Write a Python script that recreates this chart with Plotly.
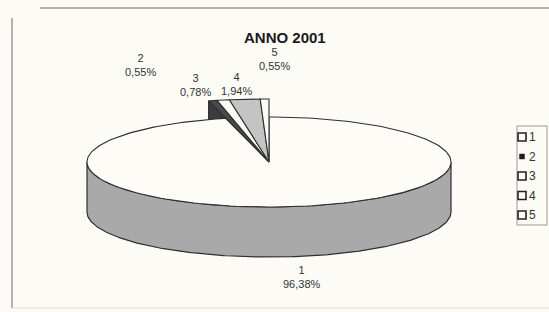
import math
import plotly.graph_objects as go

# ---- data ----
labels = ["1", "2", "3", "4", "5"]
values = [96.38, 0.55, 0.78, 1.94, 0.55]
title_text = "ANNO 2001"

# ---- style ----
top_colors = ["#fdfcf7", "#4a4a4a", "#fbfaf6", "#c4c4c4", "#fbfaf6"]
legend_fill = ["#fdfcf7", "#1e1e1e", "#fdfcf7", "#fdfcf7", "#fdfcf7"]
band_color = "#a9a9a9"
line_col = "#2e2e2e"
font_fam = "Liberation Sans, Arial"
cx, cy = 269, 162          # pie centre in pixel axes
ra, rb = 182, 45           # ellipse semi-axes
depth = 50                 # pie thickness
pop = [1.0, 1.4, 1.4, 1.4, 1.4]   # radius factor of each slice
# label nudges (px) relative to slice anchor
lab_dx = [11, -72, -28, -8, 10]
lab_dy = [-20, 36, 15, 15, 40]

def fmt(v):
    return f"{v:.2f}".replace(".", ",") + "%"

total = sum(values)
spans = [v / total * 360 for v in values]
starts = []
acc = 0.0
for s in spans:
    starts.append(acc)
    acc += s

def pt(theta, k=1.0, dz=0.0):
    t = math.radians(theta)
    return cx + ra * k * math.sin(t), cy - rb * k * math.cos(t) + dz

def arc(a0, a1, k=1.0, dz=0.0, n=200):
    xs, ys = [], []
    for i in range(n + 1):
        x, y = pt(a0 + (a1 - a0) * i / n, k, dz)
        xs.append(x); ys.append(y)
    return xs, ys

fig = go.Figure()

# cut wall of slice 2 (the first small slice), seen above big slice
i2 = 1
a = starts[i2]
ox, oy = pt(a, pop[i2])
fig.add_trace(go.Scatter(
    x=[cx, ox, ox, cx, cx], y=[cy, oy, oy + depth, cy + depth, cy],
    fill="toself", fillcolor="#3c3c3c", mode="lines",
    line=dict(color=line_col, width=1), showlegend=False, hoverinfo="skip"))

# front side band of slice 1
lo = max(starts[0], 90); hi = min(starts[0] + spans[0], 270)
tx, ty = arc(lo, hi)
bx, by = arc(hi, lo, dz=depth)
fig.add_trace(go.Scatter(
    x=tx + bx + [tx[0]], y=ty + by + [ty[0]],
    fill="toself", fillcolor=band_color, mode="lines",
    line=dict(color=line_col, width=1.2), showlegend=False, hoverinfo="skip"))

# top faces
for i, (lab, s, sp) in enumerate(zip(labels, starts, spans)):
    ax_, ay_ = arc(s, s + sp, k=pop[i])
    fig.add_trace(go.Scatter(
        x=[cx] + ax_ + [cx], y=[cy] + ay_ + [cy],
        fill="toself", fillcolor=top_colors[i], mode="lines",
        line=dict(color=line_col, width=1.1), name=lab,
        showlegend=False, hoverinfo="skip"))

# data labels
for i, (lab, v, s, sp) in enumerate(zip(labels, values, starts, spans)):
    mid = s + sp / 2
    x, y = pt(mid, pop[i])
    if i == 0:
        y += depth
    fig.add_annotation(x=x, y=y, text=f"{lab}<br>{fmt(v)}", showarrow=False,
                       xshift=lab_dx[i], yshift=lab_dy[i],
                       font=dict(family=font_fam, size=11, color="#333333"))

fig.add_annotation(x=285, y=37, text=f"<b>{title_text}</b>", showarrow=False,
                   font=dict(family=font_fam, size=15, color="#1a1a1a"))

# hand-drawn legend box (style positions)
leg_y0, leg_step = 137, 19.5
fig.add_shape(type="rect", x0=517, x1=547, y0=126, y1=225,
              line=dict(color="#9a9a9a", width=1))
for i, lab in enumerate(labels):
    yy = leg_y0 + i * leg_step
    half = 2.5 if i == 1 else 4
    fig.add_shape(type="rect", x0=522 - half, x1=522 + half, y0=yy - half, y1=yy + half,
                  fillcolor=legend_fill[i], line=dict(color="#222222", width=1.6 if i != 1 else 0.5))
    fig.add_annotation(x=527, y=yy, text=lab, showarrow=False, xanchor="left",
                       font=dict(family=font_fam, size=12, color="#333333"))

# frame decoration
fig.add_shape(type="line", x0=12, x1=12, y0=18, y1=308, line=dict(color="#9a9a9a", width=1.5))
fig.add_shape(type="line", x0=40, x1=549, y0=8, y1=8, line=dict(color="#9a9a9a", width=1.5))
fig.add_shape(type="line", x0=12, x1=549, y0=308, y1=308, line=dict(color="#dddddd", width=1))

fig.update_layout(
    width=549, height=312,
    margin=dict(l=0, r=0, t=0, b=0),
    paper_bgcolor="#fcfbf6", plot_bgcolor="#fcfbf6",
    xaxis=dict(range=[0, 549], visible=False, fixedrange=True),
    yaxis=dict(range=[312, 0], visible=False, fixedrange=True),
    showlegend=False,
)

fig.write_html("out.html", config={"displayModeBar": False},
               post_script="document.body.style.margin='0';document.body.style.overflow='hidden';")
